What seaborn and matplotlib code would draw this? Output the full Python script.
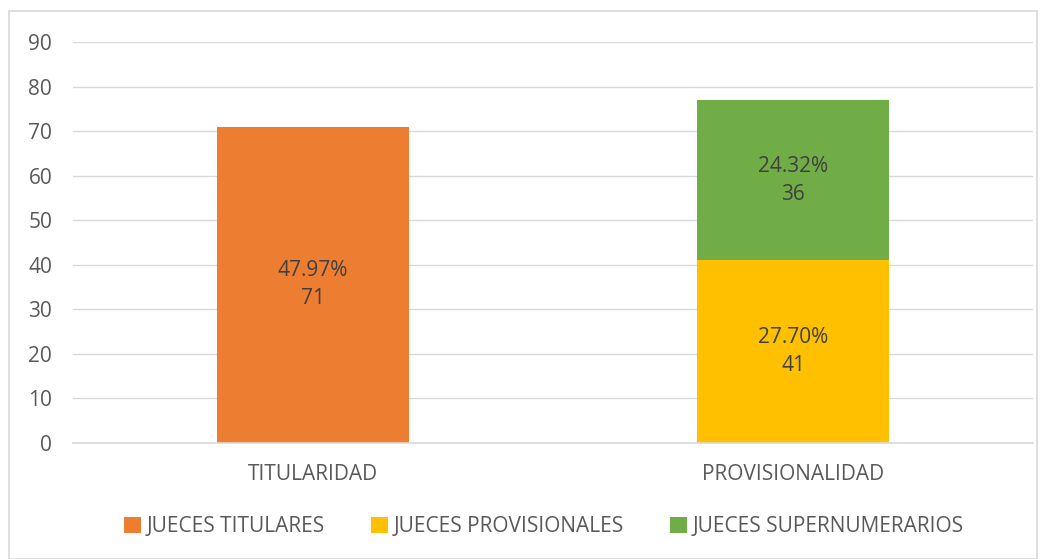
import matplotlib
matplotlib.use("Agg")
import matplotlib.pyplot as plt
import seaborn as sns
import pandas as pd
from matplotlib.patches import Rectangle, Patch

categories = ["TITULARIDAD", "PROVISIONALIDAD"]
series_names = ["JUECES TITULARES", "JUECES PROVISIONALES", "JUECES SUPERNUMERARIOS"]
titulares = [71, 0]
provisionales = [0, 41]
supernumerarios = [0, 36]
pct_titulares = ["47.97%", ""]
pct_provisionales = ["", "27.70%"]
pct_supernumerarios = ["", "24.32%"]
yticks = [0, 10, 20, 30, 40, 50, 60, 70, 80, 90]

colors = ["#ED7D31", "#FFC000", "#70AD47"]
text_color = "#595959"
label_color = "#404040"

sns.set_theme(style="white")
plt.rcParams["font.family"] = ["Open Sans", "DejaVu Sans"]

fig = plt.figure(figsize=(10.46, 5.59), dpi=100)
ax = fig.add_axes([73 / 1046, 116 / 559, (1033 - 73) / 1046, (443 - 42) / 559])

df = pd.DataFrame({
    "cat": categories,
    "tit": titulares,
    "prov": provisionales,
    "sup": supernumerarios,
})
df["prov_sup"] = df["prov"] + df["sup"]

for col, c in [("prov_sup", colors[2]), ("prov", colors[1]), ("tit", colors[0])]:
    sns.barplot(data=df, x="cat", y=col, color=c, width=0.4, saturation=1,
                ax=ax, order=categories, linewidth=0, edgecolor="none")

ax.set_ylim(0, 90)
ax.set_xlim(-0.5, 1.5)
ax.set_yticks(yticks)
ax.yaxis.grid(True, color="#D9D9D9", linewidth=1)
ax.set_axisbelow(True)
for s in ["top", "right", "left"]:
    ax.spines[s].set_visible(False)
ax.spines["bottom"].set_color("#D9D9D9")
ax.spines["bottom"].set_linewidth(1.2)
ax.tick_params(axis="y", length=0, pad=15, labelsize=15, labelcolor=text_color)
ax.tick_params(axis="x", length=0, pad=15, labelsize=15, labelcolor=text_color)
ax.set_xlabel("")
ax.set_ylabel("")

# data labels
for i in range(len(categories)):
    base = 0
    for vals, pcts in [(titulares, pct_titulares), (provisionales, pct_provisionales),
                       (supernumerarios, pct_supernumerarios)]:
        v = vals[i]
        if v > 0:
            ax.text(i, base + v / 2, f"{pcts[i]}\n{v}", ha="center", va="center",
                    fontsize=15, color=label_color, linespacing=1.45)
            base += v

handles = [Patch(facecolor=c, edgecolor="none") for c in colors]
fig.legend(handles, series_names, loc="center", bbox_to_anchor=(0.52, 1 - 527 / 559),
           ncol=3, frameon=False, fontsize=15, labelcolor=text_color,
           handlelength=0.8, handleheight=0.8, handletextpad=0.3, columnspacing=2.2)

fig.patches.append(Rectangle((9 / 1046, 0), 1 - 18 / 1046, 1 - 11 / 559, transform=fig.transFigure,
                             fill=False, edgecolor="#D9D9D9", linewidth=1.2))

fig.savefig("out.png", dpi=100)
